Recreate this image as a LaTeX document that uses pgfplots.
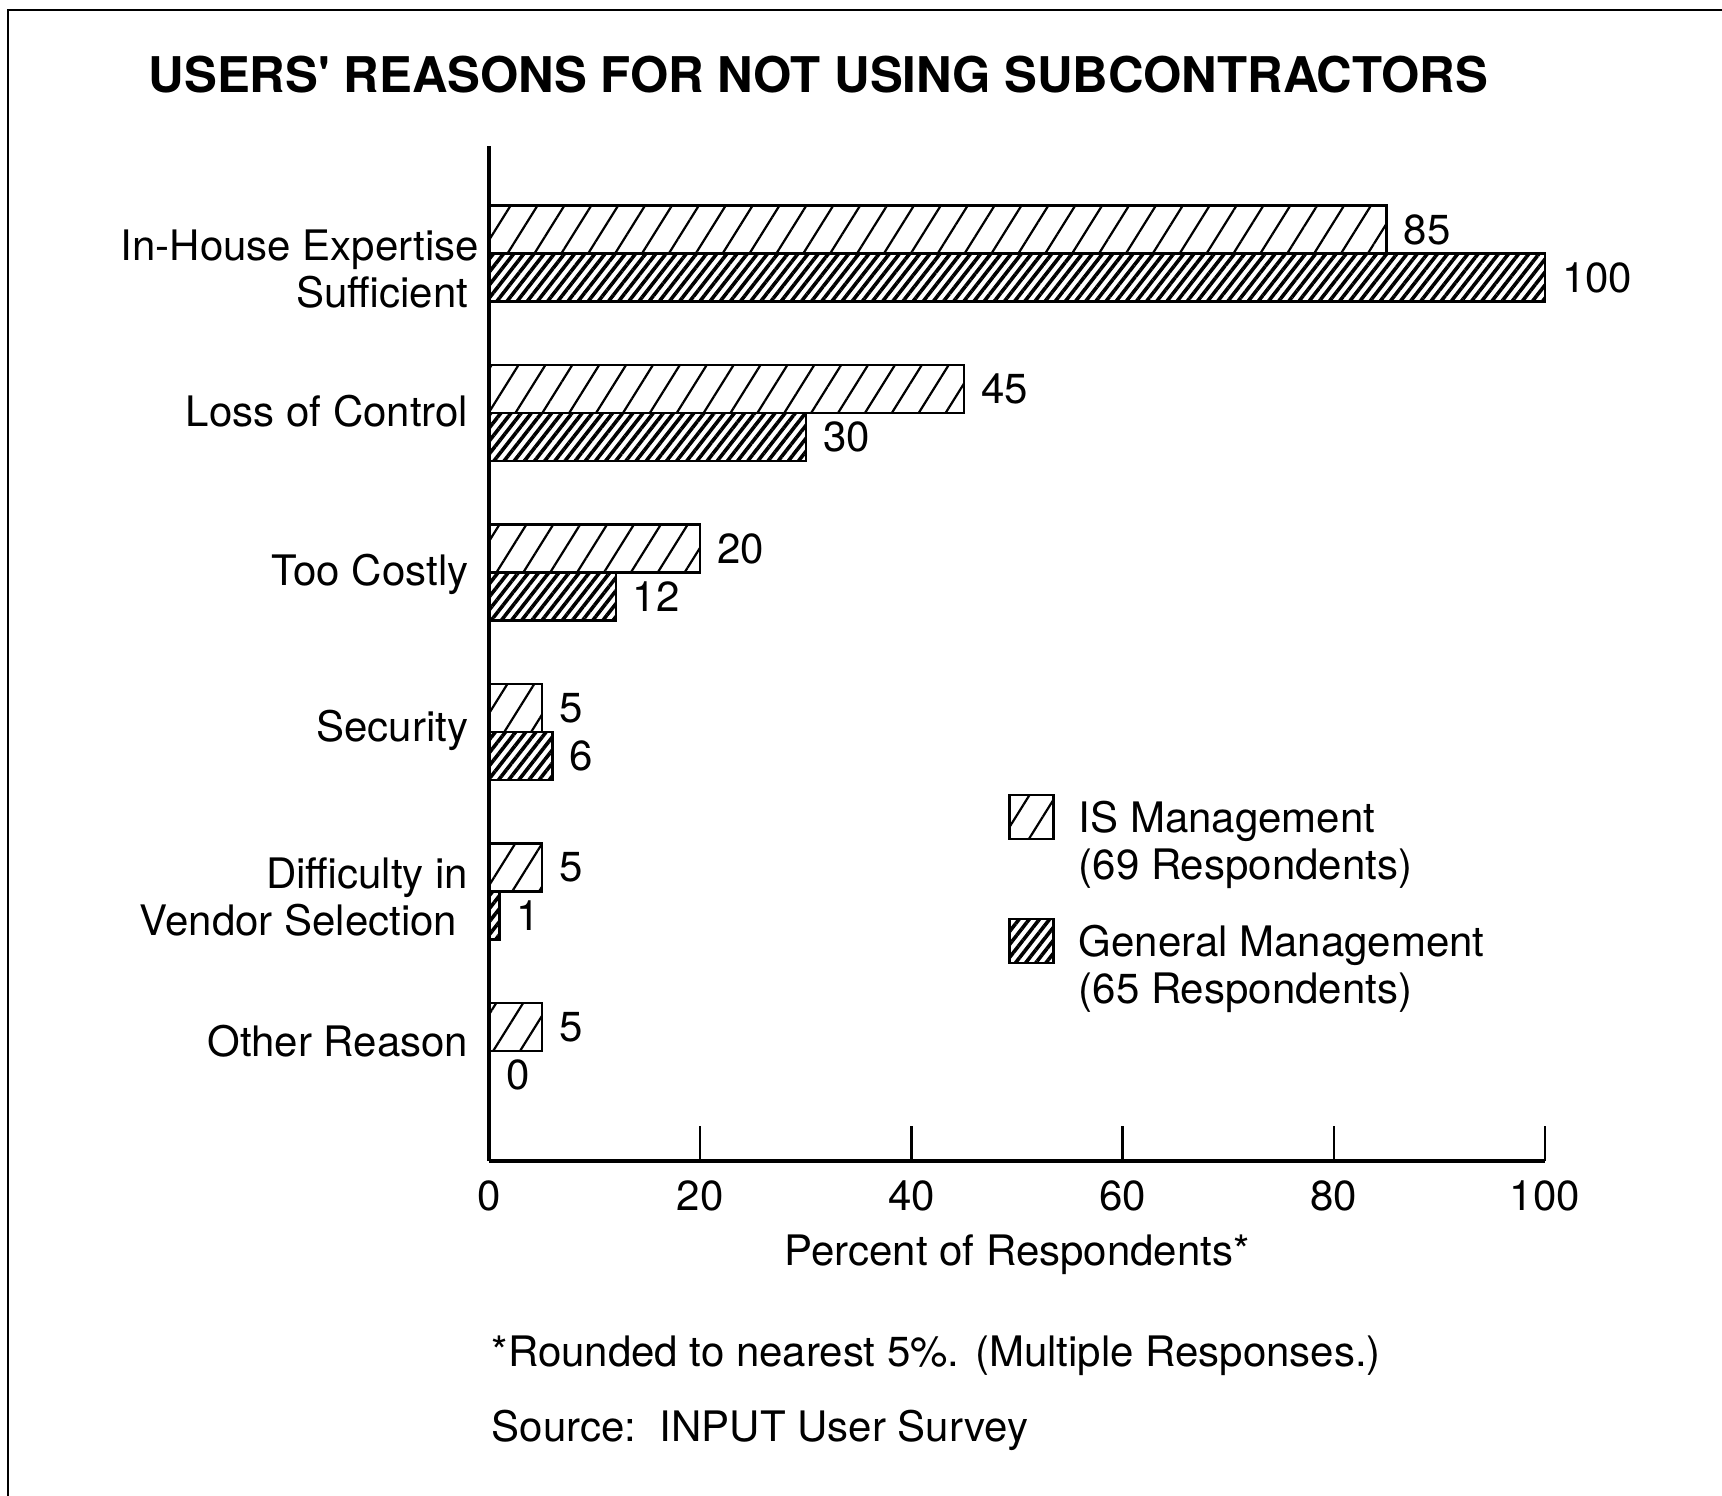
\documentclass[border=0pt]{standalone}
\usepackage{fontspec}
\setmainfont{TeX Gyre Heros}
\usepackage{pgfplots}
\pgfplotsset{compat=1.18}
\usetikzlibrary{patterns.meta}

\newcommand\lab{\fontsize{10.5}{11.8}\selectfont}

\tikzset{
  ispat/.style={pattern={Lines[angle=58, distance=5.7pt, line width=0.55pt]}},
  gmpat/.style={pattern={Lines[angle=52, distance=2.0pt, line width=0.9pt]}},
}

\begin{document}
\begin{tikzpicture}[x=1pt,y=1pt]
\useasboundingbox (0,0) rectangle (430.5,374);
% page frame (top and left edges)
\draw[line width=0.6pt] (2,-2) -- (2,371.5) -- (433,371.5);
\node[anchor=base west, inner sep=0pt, font=\fontsize{12.3}{14}\selectfont\bfseries]
  at (37,350.75) {USERS\textquotesingle\ REASONS FOR NOT USING SUBCONTRACTORS};

\begin{axis}[
  at={(122.25pt,83.75pt)}, anchor=south west,
  scale only axis, width=264pt, height=253.75pt,
  xmin=0, xmax=100, ymin=-0.69, ymax=5.675,
  clip=false,
  axis x line*=bottom, axis y line*=left,
  axis line style={-, line width=0.8pt},
  xbar, bar width=12pt,
  xtick={0,20,40,60,80,100},
  tick align=inside, major tick length=8.75pt,
  xtick style={line width=0.6pt, black},
  ytick={0.062,0.966,2.01,2.99,4.01,4.904},
  yticklabels={Other Reason, {Difficulty in\\Vendor Selection\hspace*{2.75pt}}, Security, Too Costly, Loss of Control, {In-House Expertise\hspace*{-2.75pt}\\Sufficient}},
  ytick style={draw=none},
  /pgf/number format/assume math mode=true,
  ticklabel style={font=\lab},
  xticklabel style={anchor=base, inner sep=0pt, yshift=-12.5pt},
  yticklabel style={anchor=east, align=right, inner sep=0pt, xshift=-5pt},
  xlabel={Percent of Respondents*},
  xlabel style={at={(axis description cs:0.5,0)}, anchor=base, yshift=-26.25pt, font=\lab, inner sep=0pt},
  point meta=x,
  nodes near coords,
  every node near coord/.append style={font=\lab, anchor=west, inner sep=0pt, xshift=4pt},
  legend style={at={(rel axis cs:0.491,0.3626)}, anchor=north west, draw=none, fill=none,
    inner sep=0pt, font=\lab, row sep=8pt, nodes={align=left, inner sep=0pt},
    /tikz/every odd column/.append style={column sep=6pt}},
  legend cell align=left,
  legend image code/.code={\draw[#1, line width=0.6pt] (0pt,1.1pt) rectangle (11pt,12.1pt);},
]
\addplot[draw=black, line width=0.6pt, bar shift=6pt, ispat]
  coordinates {(85,5) (45,4) (20,3) (5,2) (5,1) (5,0)};
\addlegendentry{IS Management\\(69 Respondents)}
\addplot[draw=black, line width=0.6pt, bar shift=-6pt, gmpat]
  coordinates {(100,5) (30,4) (12,3) (6,2) (1,1) (0,0)};
\addlegendentry{General Management\\(65 Respondents)}
\end{axis}

\node[anchor=base west, inner sep=0pt, font=\lab] at (122.75,32.25)
  {*Rounded to nearest 5\%. (Multiple Responses.)};
\node[anchor=base west, inner sep=0pt, font=\lab] at (122.75,13.5)
  {Source:\ \ INPUT User Survey};
\end{tikzpicture}
\end{document}
